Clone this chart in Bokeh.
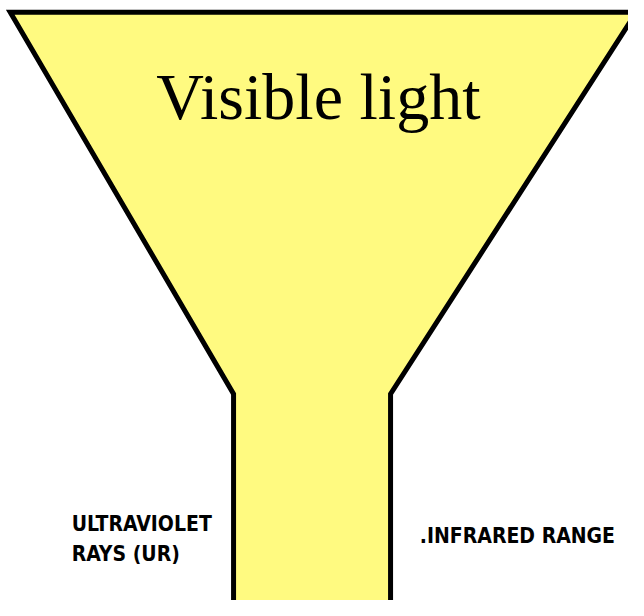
from bokeh.plotting import figure
from bokeh.models import Range1d
from bokeh.core.properties import value
from bokeh.embed import file_html
from bokeh.resources import INLINE

# Funnel outline vertices (reference pixel coordinates, y grows downward)
funnel_x = [10, 652, 400, 400, 239, 239]
funnel_y = [12, 12, 404, 640, 640, 404]

title_label = ["Visible light"]
title_x = [326]
title_y = [99]

left_labels = ["ULTRAVIOLET", "RAYS (UR)"]
left_x = [73, 73]
left_y = [537, 568]

right_labels = [".INFRARED RANGE"]
right_x = [430]
right_y = [550]

p = figure(width=628, height=600, output_backend="svg", toolbar_location=None,
           x_range=Range1d(0, 644), y_range=Range1d(616, 0),
           min_border=0, border_fill_color="white", background_fill_color="white")
p.axis.visible = False
p.grid.visible = False
p.outline_line_color = None

p.patch(funnel_x, funnel_y, fill_color="#FFFA80", line_color="black",
        line_width=5, line_join="miter")

p.text(title_x, title_y, text=title_label, text_font=value("Liberation Serif"),
       text_font_size="66px", text_align="center", text_baseline="alphabetic",
       text_color="black")

label_font = value("DejaVu Sans Condensed")

p.text(left_x, left_y, text=left_labels, text_font=label_font,
       text_font_size="21px", text_font_style="bold", text_align="left",
       text_baseline="alphabetic", text_color="black")

p.text(right_x, right_y, text=right_labels, text_font=label_font,
       text_font_size="21px", text_font_style="bold", text_align="left",
       text_baseline="alphabetic", text_color="black")

open("out.html", "w").write(file_html(p, INLINE))
